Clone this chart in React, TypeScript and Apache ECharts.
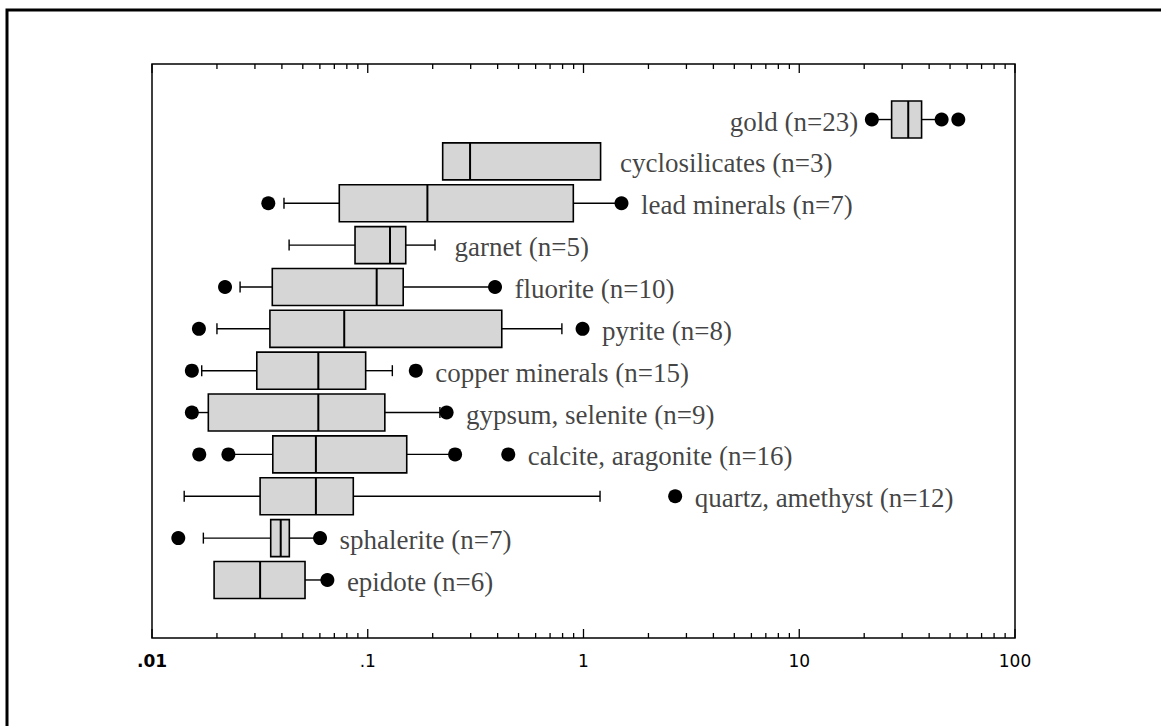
import React, { useEffect, useRef } from "react";
import * as echarts from "echarts";

// Rows, top to bottom
const mineralNames = [
  "gold",
  "cyclosilicates",
  "lead minerals",
  "garnet",
  "fluorite",
  "pyrite",
  "copper minerals",
  "gypsum, selenite",
  "calcite, aragonite",
  "quartz, amethyst",
  "sphalerite",
  "epidote",
];
const sampleCounts = [23, 3, 7, 5, 10, 8, 15, 9, 16, 12, 7, 6];

const lowWhisker = [21.7, 0.2225, 0.0409, 0.0432, 0.0256, 0.02, 0.017, 0.016, 0.0226, 0.0141, 0.0173, 0.0194];
const quartile1 = [26.8, 0.2225, 0.0738, 0.0873, 0.0361, 0.0352, 0.0306, 0.01824, 0.0363, 0.0317, 0.0355, 0.0194];
const medians = [32.0, 0.298, 0.189, 0.1268, 0.11, 0.0778, 0.059, 0.059, 0.0575, 0.0575, 0.0395, 0.0317];
const quartile3 = [36.9, 1.2, 0.897, 0.15, 0.146, 0.418, 0.0978, 0.12, 0.1516, 0.0857, 0.0433, 0.0512];
const highWhisker = [45.7, 1.2, 1.5, 0.205, 0.389, 0.794, 0.13, 0.216, 0.254, 1.193, 0.0601, 0.065];
const outlierValues: number[][] = [
  [21.7, 45.7, 54.6],
  [],
  [0.0346, 1.5],
  [],
  [0.0218, 0.389],
  [0.0165, 0.99],
  [0.0153, 0.167],
  [0.0153, 0.232],
  [0.01656, 0.0226, 0.254, 0.448],
  [2.66],
  [0.01324, 0.0601],
  [0.065],
];
// label placed left of the row for these rows
const labelOnLeft = [true, false, false, false, false, false, false, false, false, false, false, false];

const tickValues = [0.01, 0.1, 1, 10, 100];
const tickLabels = [".01", ".1", "1", "10", "100"];
const minorMultipliers = [2, 3, 4, 5, 6, 7, 8, 9];

export default function App() {
  const ref = useRef<HTMLDivElement>(null);

  useEffect(() => {
    document.body.style.margin = "0";
    if (!ref.current) return;
    const chart = echarts.init(ref.current, undefined, { renderer: "svg" });

    const allTicks: number[][] = [];
    tickValues.forEach((v, k) => {
      allTicks.push([v, 1]);
      if (k < tickValues.length - 1) {
        minorMultipliers.forEach((m) => allTicks.push([v * m, 0]));
      }
    });

    const boxData = mineralNames.map((_, i) => [
      i,
      lowWhisker[i],
      quartile1[i],
      medians[i],
      quartile3[i],
      highWhisker[i],
    ]);

    const outlierData: number[][] = [];
    outlierValues.forEach((arr, i) => arr.forEach((v) => outlierData.push([v, i])));

    const labelData = mineralNames.map((name, i) => {
      const vals = [lowWhisker[i], highWhisker[i], quartile3[i], ...outlierValues[i]];
      const left = labelOnLeft[i];
      const anchor = left ? Math.min(...vals) : Math.max(...vals);
      return {
        value: [anchor, i],
        label: {
          show: true,
          position: left ? "left" : "right",
          distance: left ? 13 : 19,
          formatter: `${name} (n=${sampleCounts[i]})`,
        },
      };
    });

    const option: any = {
      animation: false,
      backgroundColor: "#ffffff",
      graphic: [
        {
          type: "rect",
          silent: true,
          shape: { x: 7, y: 10, width: 1400, height: 1000 },
          style: { fill: "none", stroke: "#000", lineWidth: 3 },
        },
      ],
      grid: [
        {
          left: 152,
          top: 64,
          width: 863,
          height: 574,
          show: true,
          borderColor: "#000",
          borderWidth: 1.5,
          backgroundColor: "transparent",
        },
        {
          left: 152,
          top: 98.6,
          width: 863,
          height: 502.3,
        },
      ],
      xAxis: [
        {
          gridIndex: 0,
          type: "log",
          logBase: 10,
          min: 0.01,
          max: 100,
          axisLine: { show: false },
          axisTick: { show: false },
          splitLine: { show: false },
          minorTick: { show: false },
          axisLabel: {
            show: true,
            margin: 14,
            color: "#000",
            fontFamily: "DejaVu Sans",
            fontSize: 17,
            showMinLabel: true,
            showMaxLabel: true,
            formatter: (v: number) => {
              const k = Math.round(Math.log10(v)) + 2;
              const t = tickLabels[k] ?? "";
              return k === 0 ? `{b|${t}}` : t;
            },
            rich: {
              b: { fontWeight: "bold", fontSize: 17, fontFamily: "DejaVu Sans", color: "#000" },
            },
          },
        },
        {
          gridIndex: 1,
          type: "log",
          logBase: 10,
          min: 0.01,
          max: 100,
          show: false,
          splitLine: { show: false },
        },
      ],
      yAxis: [
        {
          gridIndex: 0,
          type: "value",
          min: 0,
          max: 1,
          show: false,
          splitLine: { show: false },
        },
        {
          gridIndex: 1,
          type: "category",
          data: mineralNames,
          inverse: true,
          show: false,
          axisLine: { show: false },
          axisTick: { show: false },
          axisLabel: { show: false },
          splitLine: { show: false },
        },
      ],
      series: [
        {
          type: "custom",
          xAxisIndex: 0,
          yAxisIndex: 0,
          silent: true,
          data: allTicks,
          encode: { x: 0, y: 1 },
          renderItem: (params: any, api: any) => {
            const v = api.value(0);
            const major = api.value(1) === 1;
            const x = api.coord([v, 0])[0];
            const cs = params.coordSys;
            const len = major ? 9 : 5;
            const style = { stroke: "#000", lineWidth: 1.3 };
            return {
              type: "group",
              children: [
                { type: "line", shape: { x1: x, y1: cs.y, x2: x, y2: cs.y + len }, style },
                { type: "line", shape: { x1: x, y1: cs.y + cs.height, x2: x, y2: cs.y + cs.height - len }, style },
              ],
            };
          },
        },
        {
          type: "custom",
          xAxisIndex: 1,
          yAxisIndex: 1,
          silent: true,
          data: boxData,
          encode: { x: [1, 2, 3, 4, 5], y: 0 },
          renderItem: (params: any, api: any) => {
            const cat = api.value(0);
            const lo = api.coord([api.value(1), cat]);
            const b1 = api.coord([api.value(2), cat]);
            const md = api.coord([api.value(3), cat]);
            const b3 = api.coord([api.value(4), cat]);
            const hi = api.coord([api.value(5), cat]);
            const band = Math.abs(api.coord([1, 1])[1] - api.coord([1, 0])[1]);
            const h = band * 0.885;
            const y = md[1];
            const ls = { stroke: "#000", lineWidth: 1.4 };
            const children: any[] = [];
            if (b1[0] - lo[0] > 0.5) {
              children.push({ type: "line", shape: { x1: lo[0], y1: y, x2: b1[0], y2: y }, style: ls });
              children.push({ type: "line", shape: { x1: lo[0], y1: y - 5.5, x2: lo[0], y2: y + 5.5 }, style: ls });
            }
            if (hi[0] - b3[0] > 0.5) {
              children.push({ type: "line", shape: { x1: b3[0], y1: y, x2: hi[0], y2: y }, style: ls });
              children.push({ type: "line", shape: { x1: hi[0], y1: y - 5.5, x2: hi[0], y2: y + 5.5 }, style: ls });
            }
            children.push({
              type: "rect",
              shape: { x: b1[0], y: y - h / 2, width: b3[0] - b1[0], height: h },
              style: { fill: "#d6d6d6", stroke: "#000", lineWidth: 1.6 },
            });
            children.push({
              type: "line",
              shape: { x1: md[0], y1: y - h / 2, x2: md[0], y2: y + h / 2 },
              style: { stroke: "#000", lineWidth: 2 },
            });
            return { type: "group", children };
          },
        },
        {
          type: "scatter",
          xAxisIndex: 1,
          yAxisIndex: 1,
          silent: true,
          symbol: "circle",
          symbolSize: 14,
          itemStyle: { color: "#000", opacity: 1 },
          data: outlierData,
          z: 5,
        },
        {
          type: "scatter",
          xAxisIndex: 1,
          yAxisIndex: 1,
          silent: true,
          symbolSize: 1,
          itemStyle: { color: "rgba(0,0,0,0)" },
          label: {
            show: true,
            color: "#111",
            fontFamily: "Liberation Serif",
            fontSize: 27,
            offset: [0, 2],
          },
          data: labelData,
          z: 6,
        },
      ],
    };

    chart.setOption(option);
    return () => chart.dispose();
  }, []);

  return (
    <div
      ref={ref}
      style={{ position: "absolute", left: 0, top: 0, width: 1161, height: 726 }}
    />
  );
}
